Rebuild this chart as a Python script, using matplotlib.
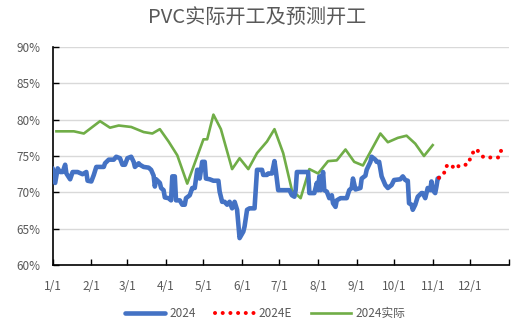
import matplotlib
matplotlib.use("Agg")
import matplotlib.pyplot as plt
import matplotlib.dates as mdates
import matplotlib.ticker as mticker
import pandas as pd

plt.rcParams['font.family'] = ['Noto Sans CJK SC', 'DejaVu Sans']

# 2024 daily operating rate (%)
daily_dates = [
    "01-01", "01-03", "01-05", "01-07", "01-09", "01-11", "01-12", "01-15", "01-17", "01-21",
    "01-25", "01-28", "01-29", "02-01", "02-03", "02-05", "02-11", "02-12", "02-15", "02-19",
    "02-21", "02-24", "02-26", "02-28", "03-01", "03-04", "03-06", "03-07", "03-10", "03-11",
    "03-14", "03-18", "03-20", "03-22", "03-23", "03-24", "03-27", "03-28", "03-30", "03-31",
    "04-03", "04-05", "04-06", "04-08", "04-09", "04-12", "04-14", "04-16", "04-17", "04-20",
    "04-22", "04-24", "04-26", "04-27", "04-28", "04-30", "05-02", "05-03", "05-06", "05-09",
    "05-13", "05-14", "05-16", "05-18", "05-20", "05-22", "05-24", "05-26", "05-28", "05-30",
    "06-02", "06-03", "06-05", "06-07", "06-11", "06-13", "06-17", "06-18", "06-21", "06-22",
    "06-25", "06-27", "06-28", "06-30", "07-09", "07-11", "07-13", "07-14", "07-15", "07-24",
    "07-25", "07-29", "07-31", "08-01", "08-02", "08-03", "08-05", "08-06", "08-08", "08-10",
    "08-12", "08-13", "08-15", "08-16", "08-19", "08-24", "08-26", "08-28", "08-29", "08-31",
    "09-04", "09-05", "09-08", "09-09", "09-12", "09-13", "09-16", "09-17", "09-19", "09-21",
    "09-24", "09-26", "09-29", "10-01", "10-06", "10-08", "10-10", "10-12", "10-13", "10-15",
    "10-16", "10-18", "10-20", "10-23", "10-24", "10-26", "10-27", "10-28", "10-30", "10-31",
    "11-01", "11-03", "11-04", "11-05", "11-06",
]
daily_rate = [
    73.3, 71.3, 73.3, 72.8, 72.8, 73.8, 72.6, 71.8, 72.8, 72.8,
    72.5, 72.8, 71.6, 71.5, 72.4, 73.5, 73.5, 74.0, 74.5, 74.5,
    74.9, 74.7, 73.8, 73.8, 74.7, 74.9, 74.2, 73.5, 74.0, 73.8,
    73.5, 73.4, 73.1, 72.3, 70.8, 71.8, 71.3, 70.6, 70.3, 69.3,
    69.2, 68.9, 72.2, 72.2, 68.9, 68.9, 68.3, 68.3, 69.2, 69.6,
    70.6, 70.6, 73.1, 73.1, 71.9, 74.2, 74.2, 71.9, 71.8, 71.6,
    71.6, 70.1, 68.7, 68.7, 68.3, 68.7, 67.8, 68.7, 67.6, 63.7,
    64.6, 65.3, 67.6, 67.8, 67.8, 73.1, 73.1, 72.4, 72.4, 72.6,
    72.6, 74.3, 73.1, 70.3, 70.3, 69.6, 69.4, 70.3, 72.8, 72.8,
    69.9, 69.9, 71.3, 70.3, 72.2, 70.3, 72.8, 70.3, 70.1, 69.2,
    69.6, 68.5, 68.0, 68.9, 69.2, 69.2, 70.3, 70.6, 71.9, 70.4,
    70.6, 71.9, 72.3, 73.1, 74.2, 74.9, 74.5, 74.2, 74.2, 72.2,
    71.0, 70.6, 71.0, 71.7, 71.8, 72.2, 71.7, 71.6, 68.5, 68.3,
    67.6, 68.3, 69.4, 69.9, 69.9, 69.2, 69.9, 70.6, 70.3, 71.5,
    70.3, 69.9, 70.8, 71.9, 72.0,
]

# 2024 forecast (%)
forecast_dates = ["11-06", "11-10", "11-11", "11-15", "11-19", "11-23", "11-29",
                  "12-03", "12-06", "12-09", "12-12", "12-24", "12-26", "12-31"]
forecast_rate = [72.0, 72.5, 73.5, 73.9, 73.2, 73.8, 73.8,
                 75.4, 76.0, 75.3, 74.8, 74.8, 75.8, 76.0]

# 2024 weekly actual (%)
weekly_dates = [
    "01-04", "01-18", "01-26", "02-08", "02-16", "02-23", "03-04", "03-14", "03-21", "03-27",
    "04-03", "04-10", "04-18", "05-01", "05-04", "05-09", "05-15", "05-24", "05-30", "06-06",
    "06-13", "06-21", "06-27", "07-04", "07-11", "07-18", "07-25", "08-01", "08-09", "08-16",
    "08-23", "08-30", "09-06", "09-20", "09-26", "10-04", "10-11", "10-18", "10-25", "11-01",
]
weekly_rate = [
    78.4, 78.4, 78.1, 79.8, 78.9, 79.2, 79.0, 78.3, 78.1, 78.7,
    77.0, 75.1, 71.2, 77.3, 77.3, 80.7, 78.7, 73.2, 74.7, 73.2,
    75.4, 77.0, 78.7, 75.4, 70.3, 69.2, 73.2, 72.6, 74.3, 74.4,
    75.9, 74.2, 73.7, 78.1, 76.9, 77.5, 77.8, 76.7, 75.0, 76.5,
]


def to_dates(md):
    return pd.to_datetime(["2024-" + s for s in md])


fig = plt.figure(figsize=(5.15, 3.29), dpi=100)
ax = fig.add_axes([0.1023, 0.1945, 0.8855, 0.6625])

ax.plot(to_dates(daily_dates), daily_rate, color="#4472C4", lw=3.3,
        solid_joinstyle="round", solid_capstyle="round", label="2024", zorder=3)
ax.plot(to_dates(forecast_dates), forecast_rate, color="#FF0000", lw=2.9,
        linestyle=(0, (0.01, 1.9)), dash_capstyle="round", label="2024E", zorder=4)
ax.plot(to_dates(weekly_dates), weekly_rate, color="#70AD47", lw=1.9,
        label="2024实际", zorder=2)

ax.set_ylim(60, 90)
ax.yaxis.set_major_locator(mticker.MultipleLocator(5))
ax.yaxis.set_major_formatter(mticker.FuncFormatter(lambda v, p: f"{v:.0f}%"))

ax.set_xlim(pd.Timestamp("2024-01-01"), pd.Timestamp("2025-01-01"))
month_ticks = list(pd.date_range("2024-01-01", "2025-01-01", freq="MS"))
ax.set_xticks(month_ticks)
ax.set_xticklabels([f"{d.month}/{d.day}" for d in month_ticks[:-1]] + [""])

ax.grid(axis="y", color="#D9D9D9", lw=1.0)
ax.set_axisbelow(True)
for side in ["top", "right"]:
    ax.spines[side].set_visible(False)
for side in ["left", "bottom"]:
    ax.spines[side].set_color("black")
    ax.spines[side].set_linewidth(1.2)

ax.tick_params(axis="both", direction="in", length=4, width=1.0, colors="black",
               labelcolor="#595959", labelsize=8.5)
ax.tick_params(axis="y", pad=9)
ax.tick_params(axis="x", pad=11)

fig.suptitle("PVC实际开工及预测开工", x=0.5, y=0.98, fontsize=14.5, color="#595959")

fig.legend(loc="lower center", bbox_to_anchor=(0.515, -0.005), ncol=3, frameon=False,
           fontsize=8.5, handlelength=3.4, handletextpad=0.35, columnspacing=1.6,
           labelcolor="#595959")

fig.savefig("out.png", dpi=100)
